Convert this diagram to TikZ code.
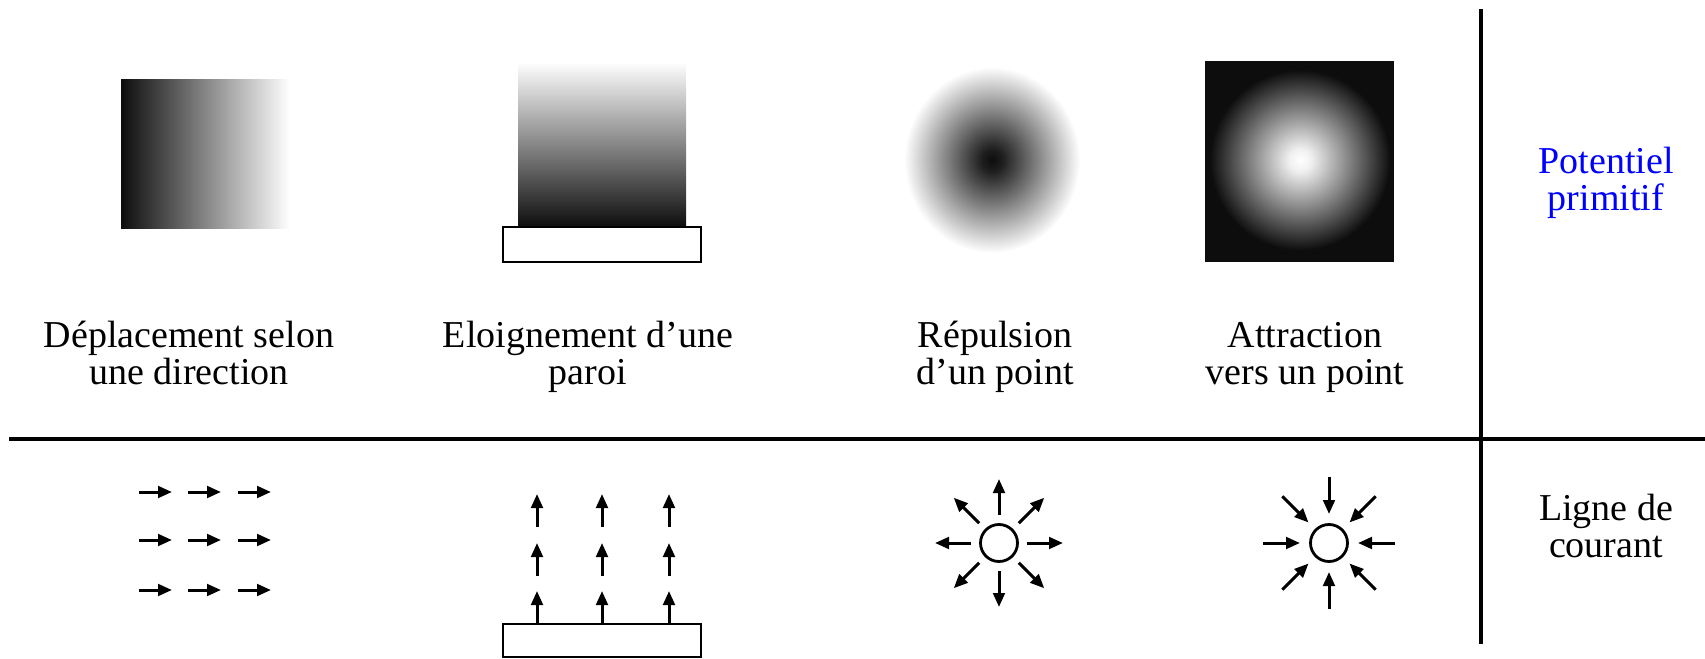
\documentclass[tikz,border=0pt]{standalone}
\usepackage{fontspec}
\setmainfont{Liberation Serif}
\usepackage{tikz}
\usetikzlibrary{arrows.meta,calc}
\usepackage{xcolor}
\definecolor{inkblack}{RGB}{13,13,13}
\definecolor{labelblue}{RGB}{0,0,255}
\pgfdeclareradialshading{repulse}{\pgfpoint{0bp}{0bp}}{color(0bp)=(black!95); color(3bp)=(black!88); color(25bp)=(white); color(50bp)=(white)}
\pgfdeclareradialshading{attract}{\pgfpoint{0bp}{0bp}}{color(0bp)=(white); color(3bp)=(white!94!black); color(24bp)=(inkblack); color(50bp)=(inkblack)}

\begin{document}
\begin{tikzpicture}[x=0.5pt, y=-0.5pt,
    flow/.style={-{Triangle[length=7pt,width=5.8pt]}, line width=1.5pt},
    caption/.style={align=center, anchor=base, font=\fontsize{19}{18.5}\selectfont},
    divider/.style={line width=2.2pt}]
  \useasboundingbox (0,0) rectangle (1705,659);
  % Table rules
  \draw[divider] (1481,9) -- (1481,644);
  \draw[divider] (9,439) -- (1705,439);
  % Potentials (top row)
  \shade[left color=inkblack, right color=white] (121,79) rectangle (290,228);
  \shade[top color=white, bottom color=inkblack] (518,62) rectangle (686,227);
  \draw[thick] (503,227) rectangle (701,262);
  \shade[shading=repulse] (992,160) ellipse [x radius=88, y radius=93];
  \fill[inkblack] (1205,61) rectangle (1394,262);
  \shade[shading=attract] (1300,160) circle [radius=94];
  % Captions (anchored on the last line)
  \node[caption] (uniform) at (189,384) {Déplacement selon\\une direction};
  \node[caption] (wall) at (588,384) {Eloignement d’une\\paroi};
  \node[caption] (repel) at (995,384) {Répulsion\\d’un point};
  \node[caption] (attract) at (1305,384) {Attraction\\vers un point};
  \node[caption, text=labelblue] (potential) at (1606,210) {Potentiel\\primitif};
  \node[caption] (stream) at (1606,557) {Ligne de\\courant};
  % Streamlines (bottom row)
  \foreach \row in {492,540,590}
    \foreach \col in {139,188,238}
      \draw[flow] (\col,\row) -- ++(33,0);
  \draw[thick] (503,624) rectangle (701,657);
  \foreach \col in {537,602,669}
    \foreach \row in {624,576,527}
      \draw[flow] (\col,\row) -- ++(0,-33);
  \node[circle, draw, line width=1.4pt, minimum size=18.5pt, inner sep=0pt] (source) at (999,543) {};
  \node[circle, draw, line width=1.4pt, minimum size=18.5pt, inner sep=0pt] (sink) at (1329,543) {};
  \foreach \a in {0,45,...,315}{
    \draw[flow] ($(source)+(\a:28)$) -- ($(source)+(\a:64)$);
    \draw[flow] ($(sink)+(\a:66)$) -- ($(sink)+(\a:29)$);
  }
\end{tikzpicture}
\end{document}
